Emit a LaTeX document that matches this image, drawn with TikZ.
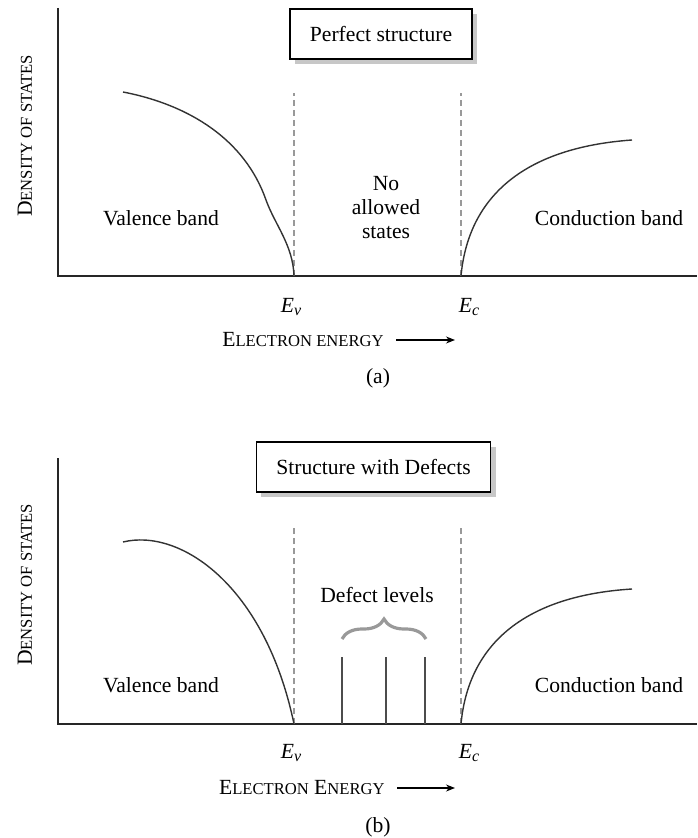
\documentclass[tikz,border=0pt]{standalone}
\usepackage{fontspec}
\setmainfont{Liberation Serif}
\usetikzlibrary{shadows}
\usetikzlibrary{arrows.meta}
\usetikzlibrary{decorations.pathreplacing}
\newcommand{\smcap}[1]{{\fontsize{8.3}{10}\selectfont #1}}
\newcommand{\elev}[1]{\textit{E}\raisebox{-0.4ex}{\fontsize{8}{9}\selectfont\textit{#1}}}
\tikzset{
  lbl/.style= {font=\fontsize{10.8}{12}\selectfont, inner sep=1pt},
  titlebox/.style= {draw, line width=0.8pt, fill=white, inner xsep=10pt, minimum height=25pt,
    font=\fontsize{10.8}{12}\selectfont,
    drop shadow={shadow xshift=2.5pt, shadow yshift=-2.5pt, fill=black!22, opacity=1}},
  axis/.style= {line width=0.8pt, black!85},
  band/.style= {line width=0.7pt, black!80},
  gap/.style= {line width=0.8pt, black!40, dash pattern=on 3pt off 2pt},
  level/.style= {line width=1pt, black!70},
  energy/.style= {line width=0.6pt, -{Stealth[length=4.5pt, width=3.5pt]}, shorten <=5pt},
}

\begin{document}
\begin{tikzpicture}[x=0.5pt, y=-0.5pt]
  \useasboundingbox (0,0) rectangle (697,838);

  % (a) perfect structure
  \coordinate (ay) at (58,8) ;
  \coordinate (ao) at (58,276) ;
  \coordinate (ax) at (697,276) ;
  \coordinate (av) at (294,276) ;
  \coordinate (ac) at (461,276) ;
  \draw [axis] (ay) -- (ao) -- (ax) ;
  \draw [gap] (av) -- (294,93) ;
  \draw [gap] (ac) -- (461,93) ;
  \draw [band] (123,92) .. controls (190,105) and (245,140) .. (266,200)
    .. controls (275,225) and (293,245) .. (av) ;
  \draw [band] (ac) .. controls (468,200) and (520,148) .. (632,140) ;

  \node [titlebox] (aperf) at (381,34) {Perfect structure} ;
  \node [lbl, rotate=90] (adens) at (25,136) {D\smcap{ENSITY OF STATES}} ;
  \node [lbl] (aval) at (161,218) {Valence band} ;
  \node [lbl] (acon) at (609,218) {Conduction band} ;
  \node [lbl, align=center] (anone) at (386,208) {No\\allowed\\states} ;
  \node [lbl] (aev) at (291,307) {\elev{v}} ;
  \node [lbl] (aec) at (469,307) {\elev{c}} ;
  \node [lbl, anchor=east] (aen) at (386,340) {E\smcap{LECTRON ENERGY}} ;
  \coordinate (aentip) at (455,340) ;
  \draw [energy] (aen) -- (aentip) ;
  \node [lbl] (acap) at (378,378) {(a)} ;

  % (b) structure with defects
  \coordinate (by) at (58,458) ;
  \coordinate (bo) at (58,724) ;
  \coordinate (bx) at (697,724) ;
  \coordinate (bv) at (294,724) ;
  \coordinate (bc) at (461,724) ;
  \draw [axis] (by) -- (bo) -- (bx) ;
  \draw [gap] (bv) -- (294,525) ;
  \draw [gap] (bc) -- (461,525) ;
  \draw [band] (123,542) .. controls (180,528) and (265,585) .. (bv) ;
  \draw [band] (bc) .. controls (468,648) and (520,596) .. (632,589) ;
  \foreach \x/\n in {342/1, 386/2, 425/3}
    \draw [level] (\x,724) -- (\x,657) coordinate (lev\n) ;
  \draw [line width=1.6pt, black!40, decorate, decoration={brace, amplitude=10pt}]
    (342,639) -- (426,639) ;

  \node [titlebox] (bdef) at (373.5,467) {Structure with Defects} ;
  \node [lbl, rotate=90] (bdens) at (25,585) {D\smcap{ENSITY OF STATES}} ;
  \node [lbl] (bval) at (161,685) {Valence band} ;
  \node [lbl] (bcon) at (609,685) {Conduction band} ;
  \node [lbl] (blev) at (377,595) {Defect levels} ;
  \node [lbl] (bev) at (291,753) {\elev{v}} ;
  \node [lbl] (bec) at (469,753) {\elev{c}} ;
  \node [lbl, anchor=east] (ben) at (387,788) {E\smcap{LECTRON} E\smcap{NERGY}} ;
  \coordinate (bentip) at (455,788) ;
  \draw [energy] (ben) -- (bentip) ;
  \node [lbl] (bcap) at (378,827) {(b)} ;
\end{tikzpicture}
\end{document}
